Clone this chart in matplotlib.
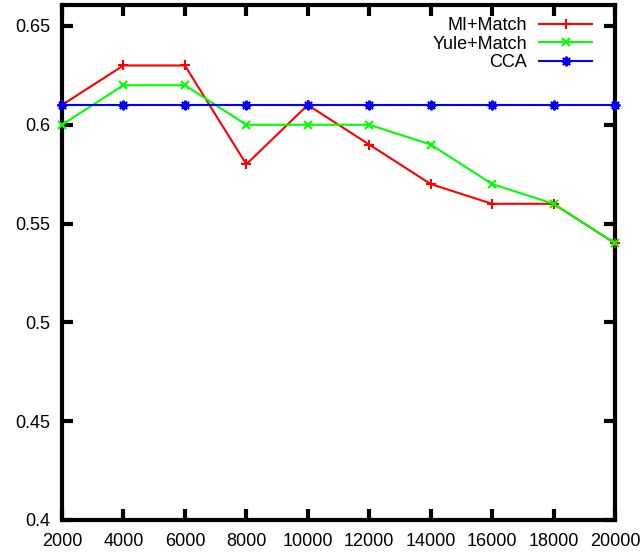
import matplotlib
matplotlib.use("Agg")
import matplotlib.pyplot as plt

x_vals = [2000, 4000, 6000, 8000, 10000, 12000, 14000, 16000, 18000, 20000]
mi_match = [0.61, 0.63, 0.63, 0.58, 0.61, 0.59, 0.57, 0.56, 0.56, 0.54]
yule_match = [0.60, 0.62, 0.62, 0.60, 0.60, 0.60, 0.59, 0.57, 0.56, 0.54]
cca = [0.61, 0.61, 0.61, 0.61, 0.61, 0.61, 0.61, 0.61, 0.61, 0.61]
y_ticks = [0.4, 0.45, 0.5, 0.55, 0.6, 0.65]
y_labels = ["0.4", "0.45", "0.5", "0.55", "0.6", "0.65"]

plt.rcParams['font.family'] = ['Liberation Sans', 'DejaVu Sans']

fig = plt.figure(figsize=(6.44, 5.52), dpi=100)
ax = fig.add_axes([62/644, 1-520/552, (615-62)/644, (520-5)/552])

ax.plot(x_vals, mi_match, color='#ff0000', lw=1.5, marker='+', ms=7.5, mew=1.5, label='MI+Match', clip_on=False, zorder=3)
ax.plot(x_vals, yule_match, color='#00ff00', lw=1.5, marker='x', ms=6, mew=1.5, label='Yule+Match', clip_on=False, zorder=3)
ax.plot(x_vals, cca, color='#0000ff', lw=1.5, marker=(8, 2, 0), ms=7, mew=1.4, label='CCA', clip_on=False, zorder=3)

ax.set_xlim(2000, 20000)
ax.set_ylim(0.4, 0.6606)
ax.set_xticks(x_vals)
ax.set_xticklabels([str(v) for v in x_vals])
ax.set_yticks(y_ticks)
ax.set_yticklabels(y_labels)

for s in ax.spines.values():
    s.set_linewidth(3)
ax.tick_params(direction='in', length=8, width=3, top=True, right=True, labelsize=13)
ax.tick_params(axis='y', pad=8.5)
ax.tick_params(axis='x', pad=9.5)

leg = ax.legend(loc='upper right', frameon=False, markerfirst=False, fontsize=13,
                handlelength=2.9, labelspacing=0.08, handletextpad=0.7,
                borderaxespad=0, bbox_to_anchor=(1 - 16/553, 1 - 5/515))

fig.savefig("out.png", dpi=100)
